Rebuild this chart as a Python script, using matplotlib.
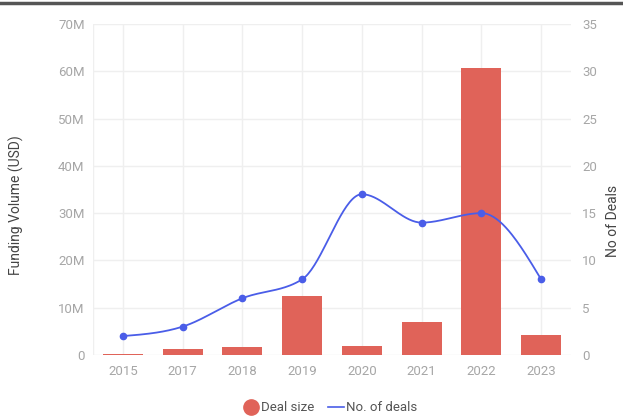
import matplotlib.pyplot as plt
import numpy as np
from matplotlib.lines import Line2D

plt.rcParams['font.family'] = ['Roboto', 'DejaVu Sans']

years = ['2015', '2017', '2018', '2019', '2020', '2021', '2022', '2023']
deal_size = [0.3e6, 1.2e6, 1.7e6, 12.4e6, 1.8e6, 7.0e6, 60.8e6, 4.3e6]
num_deals = [2, 3, 6, 8, 17, 14, 15, 8]

bar_color = '#e06359'
line_color = '#4a5de8'
tick_color = '#a6a6a6'
grid_color = '#efefef'


def monotone_curve(x, y, n=40):
    # monotone cubic (d3 curveMonotoneX style) for a smooth line through the points
    x = np.asarray(x, float)
    y = np.asarray(y, float)
    h = np.diff(x)
    s = np.diff(y) / h
    m = np.zeros_like(y)
    for i in range(1, len(y) - 1):
        if s[i - 1] * s[i] <= 0:
            m[i] = 0
        else:
            p = (s[i - 1] * h[i] + s[i] * h[i - 1]) / (h[i - 1] + h[i])
            m[i] = np.sign(s[i - 1]) * min(abs(s[i - 1]), abs(s[i]), 0.5 * abs(p)) * 2
    m[0] = (3 * s[0] - m[1]) / 2
    m[-1] = (3 * s[-1] - m[-2]) / 2
    xs, ys = [], []
    for i in range(len(h)):
        t = np.linspace(0, 1, n)
        h00 = 2 * t**3 - 3 * t**2 + 1
        h10 = t**3 - 2 * t**2 + t
        h01 = -2 * t**3 + 3 * t**2
        h11 = t**3 - t**2
        xs.append(x[i] + t * h[i])
        ys.append(h00 * y[i] + h10 * h[i] * m[i] + h01 * y[i + 1] + h11 * h[i] * m[i + 1])
    return np.concatenate(xs), np.concatenate(ys)


fig = plt.figure(figsize=(6.23, 4.17), dpi=100)
ax = fig.add_axes([0.1493, 0.1487, 0.7672, 0.7937])
ax2 = ax.twinx()

x = np.arange(len(years))
ax.bar(x, deal_size, width=0.67, color=bar_color, zorder=2)

ax.set_xlim(-0.5, len(years) - 0.5)
ax.set_ylim(0, 70e6)
ax.set_yticks(np.arange(0, 71e6, 10e6))
ax.set_yticklabels(['0'] + [f'{v}M' for v in range(10, 71, 10)])
ax.set_xticks(x)
ax.set_xticklabels(years)

ax.grid(True, color=grid_color, linewidth=1, zorder=0)
ax.axvline(-0.5, color=grid_color, linewidth=1, zorder=0)
ax.set_axisbelow(True)

for a in (ax, ax2):
    for sp in a.spines.values():
        sp.set_visible(False)
    a.tick_params(length=0, colors=tick_color, labelsize=9.5)
ax.tick_params(axis='x', pad=7)
ax.tick_params(axis='y', pad=6)
ax2.tick_params(axis='y', pad=8)

cx, cy = monotone_curve(x, num_deals)
ax2.plot(cx, cy, color=line_color, linewidth=1.3, zorder=3)
ax2.plot(x, num_deals, 'o', color=line_color, markersize=4.5, zorder=4)
ax2.set_ylim(0, 35)
ax2.set_yticks(np.arange(0, 36, 5))

ax.set_ylabel('Funding Volume (USD)', color='#444444', fontsize=10)
ax.yaxis.set_label_coords(-0.144, 0.453)
ax2.set_ylabel('No of Deals', color='#444444', fontsize=10, rotation=90)
ax2.yaxis.set_label_coords(1.073, 0.405)

handles = [
    Line2D([], [], marker='o', linestyle='none', color=bar_color, markersize=11),
    Line2D([], [], color=line_color, linewidth=1.2),
]
fig.legend(handles, ['Deal size', 'No. of deals'], loc='center', bbox_to_anchor=(0.53, 0.022),
           ncol=2, frameon=False, fontsize=9.5, handlelength=1.2, handletextpad=0.2,
           columnspacing=1.0, labelcolor='#555555')

fig.add_artist(Line2D([0, 1], [0.994, 0.994], color='#555555', linewidth=2.5,
                      transform=fig.transFigure))

fig.savefig('out.png', dpi=100)
